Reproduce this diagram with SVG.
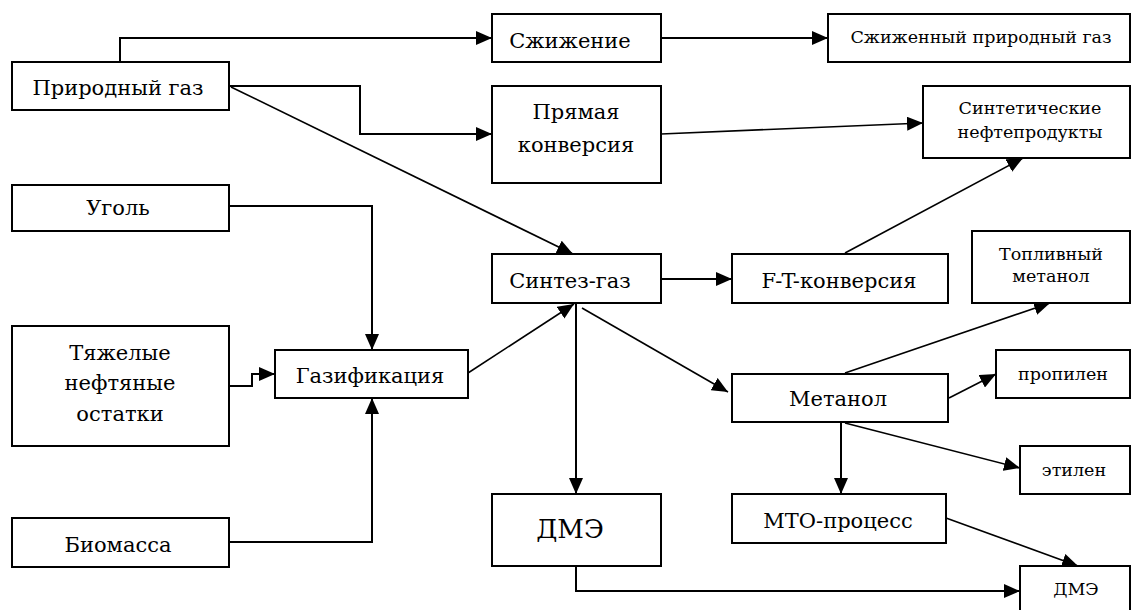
<svg xmlns="http://www.w3.org/2000/svg" width="1133" height="610" viewBox="0 0 1133 610">
<style>
.box{fill:#fff;stroke:#000;stroke-width:2}
.t{font-family:'DejaVu Serif','Liberation Serif',serif;font-size:21px;fill:#000;text-anchor:middle}
.s{font-family:'DejaVu Serif','Liberation Serif',serif;font-size:17.5px;fill:#000;text-anchor:middle}
.c{fill:none;stroke:#000;stroke-width:2}
.d{fill:none;stroke:#000;stroke-width:1.6}
</style>
<defs>
<marker id="a" markerUnits="userSpaceOnUse" markerWidth="17" markerHeight="14" refX="16" refY="7" orient="auto">
<path d="M0,0 L16,7 L0,14 z" fill="#000"/>
</marker>
</defs>
<rect width="1133" height="610" fill="#fff"/>
<g id="connectors">
<path class="c" d="M120,62 V38 H492" marker-end="url(#a)"/>
<path class="c" d="M229,86 H360 V134 H492" marker-end="url(#a)"/>
<path class="d" d="M231,87 L573,254" marker-end="url(#a)"/>
<path class="c" d="M661,38 H828" marker-end="url(#a)"/>
<path class="d" d="M661,134 L923,123" marker-end="url(#a)"/>
<path class="c" d="M229,206 H372 V350" marker-end="url(#a)"/>
<path class="c" d="M229,386 H252 V374 H275" marker-end="url(#a)"/>
<path class="c" d="M229,542 H372 V398" marker-end="url(#a)"/>
<path class="d" d="M468,373 L574,304" marker-end="url(#a)"/>
<path class="c" d="M661,279 H732" marker-end="url(#a)"/>
<path class="d" d="M845,253 L1023,158" marker-end="url(#a)"/>
<path class="c" d="M576,303 V494" marker-end="url(#a)"/>
<path class="d" d="M582,308 L728,392" marker-end="url(#a)"/>
<path class="d" d="M845,373 L1050,303" marker-end="url(#a)"/>
<path class="d" d="M949,398 L996,374" marker-end="url(#a)"/>
<path class="d" d="M845,423 L1020,468" marker-end="url(#a)"/>
<path class="c" d="M841,422 V494" marker-end="url(#a)"/>
<path class="d" d="M946,518 L1078,566" marker-end="url(#a)"/>
<path class="c" d="M576,566 V591 H1020" marker-end="url(#a)"/>
</g>
<g id="n-prirodny-gaz"><rect class="box" x="12" y="62" width="217" height="48"/><text class="t" x="118" y="95">Природный газ</text></g>
<g id="n-szhizhenie"><rect class="box" x="492" y="14" width="169" height="48"/><text class="t" x="570" y="48">Сжижение</text></g>
<g id="n-spg"><rect class="box" x="828" y="14" width="302" height="48"/><text class="s" x="981" y="43">Сжиженный природный газ</text></g>
<g id="n-pryamaya"><rect class="box" x="492" y="86" width="169" height="97"/><text class="t" x="576" y="119">Прямая</text><text class="t" x="576" y="152">конверсия</text></g>
<g id="n-sintnp"><rect class="box" x="923" y="86" width="207" height="72"/><text class="s" x="1030" y="114">Синтетические</text><text class="s" x="1030" y="138">нефтепродукты</text></g>
<g id="n-ugol"><rect class="box" x="12" y="185" width="217" height="46"/><text class="t" x="118" y="215">Уголь</text></g>
<g id="n-tyazh"><rect class="box" x="12" y="326" width="217" height="120"/><text class="t" x="120" y="360">Тяжелые</text><text class="t" x="120" y="390">нефтяные</text><text class="t" x="120" y="421">остатки</text></g>
<g id="n-biomassa"><rect class="box" x="12" y="518" width="217" height="49"/><text class="t" x="118" y="552">Биомасса</text></g>
<g id="n-gazif"><rect class="box" x="275" y="350" width="193" height="48"/><text class="t" x="370" y="383">Газификация</text></g>
<g id="n-sintez"><rect class="box" x="492" y="254" width="169" height="49"/><text class="t" x="570" y="288">Синтез-газ</text></g>
<g id="n-ft"><rect class="box" x="732" y="254" width="216" height="49"/><text class="t" x="839" y="288">F-T-конверсия</text></g>
<g id="n-toplivny"><rect class="box" x="972" y="231" width="158" height="72"/><text class="s" x="1051" y="260">Топливный</text><text class="s" x="1051" y="282">метанол</text></g>
<g id="n-metanol"><rect class="box" x="732" y="374" width="216" height="48"/><text class="t" x="838" y="406">Метанол</text></g>
<g id="n-propilen"><rect class="box" x="996" y="350" width="134" height="48"/><text class="s" x="1063" y="380">пропилен</text></g>
<g id="n-etilen"><rect class="box" x="1020" y="446" width="110" height="48"/><text class="s" x="1074" y="476">этилен</text></g>
<g id="n-dme1"><rect class="box" x="492" y="494" width="169" height="72"/><text class="t" x="570" y="538" style="font-size:26px">ДМЭ</text></g>
<g id="n-mto"><rect class="box" x="732" y="494" width="214" height="49"/><text class="t" x="838" y="528">МТО-процесс</text></g>
<g id="n-dme2"><rect class="box" x="1020" y="566" width="110" height="60"/><text class="s" x="1076" y="595">ДМЭ</text></g>
</svg>
